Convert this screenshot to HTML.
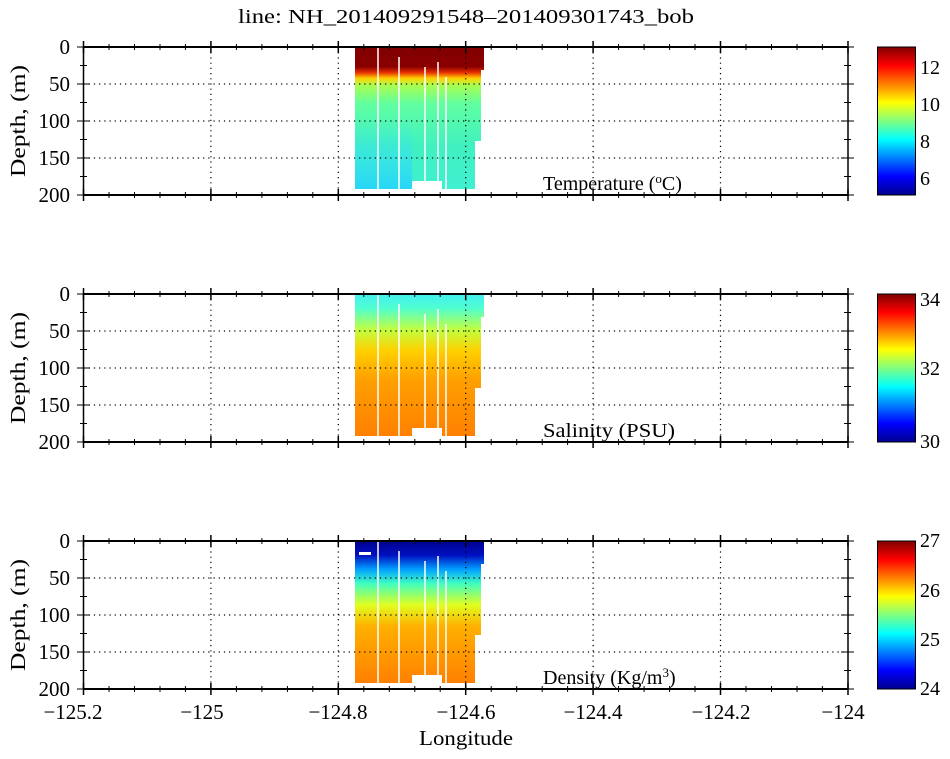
<!DOCTYPE html>
<html><head><style>
body{margin:0;background:#fff;}
text{font-family:"Liberation Serif",serif;fill:#000;}
</style></head><body>
<svg width="950" height="754" xmlns="http://www.w3.org/2000/svg">
<defs>
<linearGradient id="jet" x1="0" y1="1" x2="0" y2="0">
<stop offset="0" stop-color="#00008f"/><stop offset="0.125" stop-color="#0000ff"/>
<stop offset="0.375" stop-color="#00ffff"/><stop offset="0.625" stop-color="#ffff00"/>
<stop offset="0.875" stop-color="#ff0000"/><stop offset="1" stop-color="#800000"/>
</linearGradient>
<linearGradient id="tg" x1="0" y1="0" x2="0" y2="1">
<stop offset="0" stop-color="#800000"/><stop offset="0.14" stop-color="#8a0000"/>
<stop offset="0.18" stop-color="#e83000"/><stop offset="0.22" stop-color="#ffd000"/>
<stop offset="0.27" stop-color="#a8ff50"/><stop offset="0.4" stop-color="#60ffa0"/>
<stop offset="0.7" stop-color="#40f0c0"/><stop offset="1" stop-color="#40f0d0"/>
</linearGradient>
<linearGradient id="tl" x1="0" y1="0" x2="0" y2="1">
<stop offset="0" stop-color="#40e8ff" stop-opacity="0"/><stop offset="1" stop-color="#20d0ff" stop-opacity="0.8"/>
</linearGradient>
<linearGradient id="sg" x1="0" y1="0" x2="0" y2="1">
<stop offset="0" stop-color="#40f0f0"/><stop offset="0.1" stop-color="#50ffd0"/>
<stop offset="0.25" stop-color="#c0ff40"/><stop offset="0.4" stop-color="#ffd000"/>
<stop offset="0.6" stop-color="#ffa000"/><stop offset="1" stop-color="#ff8000"/>
</linearGradient>
<linearGradient id="dg" x1="0" y1="0" x2="0" y2="1">
<stop offset="0" stop-color="#000090"/><stop offset="0.1" stop-color="#0010c0"/>
<stop offset="0.2" stop-color="#00a0ff"/><stop offset="0.3" stop-color="#40ffc0"/>
<stop offset="0.45" stop-color="#e0ff20"/><stop offset="0.6" stop-color="#ffb000"/>
<stop offset="1" stop-color="#ff8000"/>
</linearGradient>
<g id="grid" stroke="#000" stroke-width="1.2" stroke-dasharray="1.2,4">
<line x1="210.9" y1="0" x2="210.9" y2="148"/><line x1="338.3" y1="0" x2="338.3" y2="148"/>
<line x1="465.7" y1="0" x2="465.7" y2="148"/><line x1="593.1" y1="0" x2="593.1" y2="148"/>
<line x1="720.5" y1="0" x2="720.5" y2="148"/>
<line x1="83.5" y1="37" x2="848" y2="37"/><line x1="83.5" y1="74" x2="848" y2="74"/><line x1="83.5" y1="111" x2="848" y2="111"/>
</g>
<g id="ax" stroke="#000" fill="none">
<line x1="83.5" y1="0" x2="848" y2="0" stroke-width="2"/>
<line x1="83.5" y1="148" x2="848" y2="148" stroke-width="2"/>
<line x1="83.5" y1="0" x2="83.5" y2="148" stroke-width="1.5"/>
<line x1="848" y1="0" x2="848" y2="148" stroke-width="1.5"/>
<path d="M83.5 -6V6M210.9 -6V6M338.3 -6V6M465.7 -6V6M593.1 -6V6M720.5 -6V6M848 -6V6 M83.5 142V154M210.9 142V154M338.3 142V154M465.7 142V154M593.1 142V154M720.5 142V154M848 142V154" stroke-width="1.5"/>
<path d="M109 -3V3M134.5 -3V3M160 -3V3M185.4 -3V3M236.4 -3V3M261.9 -3V3M287.4 -3V3M312.8 -3V3M363.8 -3V3M389.3 -3V3M414.8 -3V3M440.2 -3V3M491.2 -3V3M516.7 -3V3M542.2 -3V3M567.6 -3V3M618.6 -3V3M644.1 -3V3M669.6 -3V3M695 -3V3M746 -3V3M771.5 -3V3M797 -3V3M822.4 -3V3 M109 145V151M134.5 145V151M160 145V151M185.4 145V151M236.4 145V151M261.9 145V151M287.4 145V151M312.8 145V151M363.8 145V151M389.3 145V151M414.8 145V151M440.2 145V151M491.2 145V151M516.7 145V151M542.2 145V151M567.6 145V151M618.6 145V151M644.1 145V151M669.6 145V151M695 145V151M746 145V151M771.5 145V151M797 145V151M822.4 145V151"/>
<path d="M77 0H90M77 37H90M77 74H90M77 111H90M77 148H90M841 0H854M841 37H854M841 74H854M841 111H854M841 148H854"/>
<path d="M80 18.5H87M80 55.5H87M80 92.5H87M80 129.5H87M844 18.5H851M844 55.5H851M844 92.5H851M844 129.5H851"/>
</g>
<g id="yl" font-size="21" text-anchor="end">
<text x="70" y="7">0</text><text x="70" y="44">50</text><text x="70" y="81">100</text><text x="70" y="118">150</text><text x="70" y="155">200</text>
<text transform="translate(25,74) rotate(-90)" text-anchor="middle" font-size="21" textLength="112" lengthAdjust="spacingAndGlyphs">Depth, (m)</text>
</g>
<g id="wl" stroke="#fff" stroke-width="1.5">
<line x1="378" y1="0" x2="378" y2="142"/><line x1="399" y1="10" x2="399" y2="142"/>
<line x1="425" y1="20" x2="425" y2="142"/><line x1="438" y1="15" x2="438" y2="142"/>
<line x1="446" y1="30" x2="446" y2="142"/>
</g>
</defs>

<text x="238" y="23" font-size="20" textLength="456" lengthAdjust="spacingAndGlyphs">line: NH_201409291548–201409301743_bob</text>

<g transform="translate(0,47)">
<path d="M355 0H484V23H481V94H475V142H442V134H412V142H355Z" fill="url(#tg)"/>
<path d="M355 70H412V142H355Z" fill="url(#tl)"/>
<use href="#wl"/>
<use href="#grid"/><use href="#ax"/><use href="#yl"/>
<text x="543" y="143" font-size="20">Temperature (<tspan font-size="13" dy="-7">o</tspan><tspan dy="7">C)</tspan></text>
</g>
<rect x="877.5" y="47" width="38" height="148" fill="url(#jet)" stroke="#000"/>
<g font-size="20"><text x="920" y="74">12</text><text x="920" y="111">10</text><text x="920" y="148">8</text><text x="920" y="185">6</text></g>

<g transform="translate(0,294)">
<path d="M355 0H484V23H481V94H475V142H442V134H412V142H355Z" fill="url(#sg)"/>
<use href="#wl"/>
<use href="#grid"/><use href="#ax"/><use href="#yl"/>
<text x="543" y="143" font-size="20" textLength="132" lengthAdjust="spacingAndGlyphs">Salinity (PSU)</text>
</g>
<rect x="877.5" y="294" width="38" height="148" fill="url(#jet)" stroke="#000"/>
<g font-size="20"><text x="920" y="306">34</text><text x="920" y="375">32</text><text x="920" y="448">30</text></g>

<g transform="translate(0,541)">
<path d="M355 0H484V23H481V94H475V142H442V134H412V142H355Z" fill="url(#dg)"/>
<rect x="359" y="11" width="12" height="3" fill="#fff"/>
<use href="#wl"/>
<use href="#grid"/><use href="#ax"/><use href="#yl"/>
<text x="543" y="143" font-size="20">Density (Kg/m<tspan font-size="13" dy="-7">3</tspan><tspan dy="7">)</tspan></text>
</g>
<rect x="877.5" y="541" width="38" height="148" fill="url(#jet)" stroke="#000"/>
<g font-size="20"><text x="920" y="547">27</text><text x="920" y="597">26</text><text x="920" y="646">25</text><text x="920" y="695">24</text></g>

<g font-size="21" text-anchor="middle">
<text x="73" y="719">−125.2</text><text x="202" y="719">−125</text><text x="338" y="719">−124.8</text>
<text x="466" y="719">−124.6</text><text x="593" y="719">−124.4</text><text x="721" y="719">−124.2</text><text x="843" y="719">−124</text>
<text x="466" y="745" textLength="94" lengthAdjust="spacingAndGlyphs">Longitude</text>
</g>
</svg>
</body></html>
